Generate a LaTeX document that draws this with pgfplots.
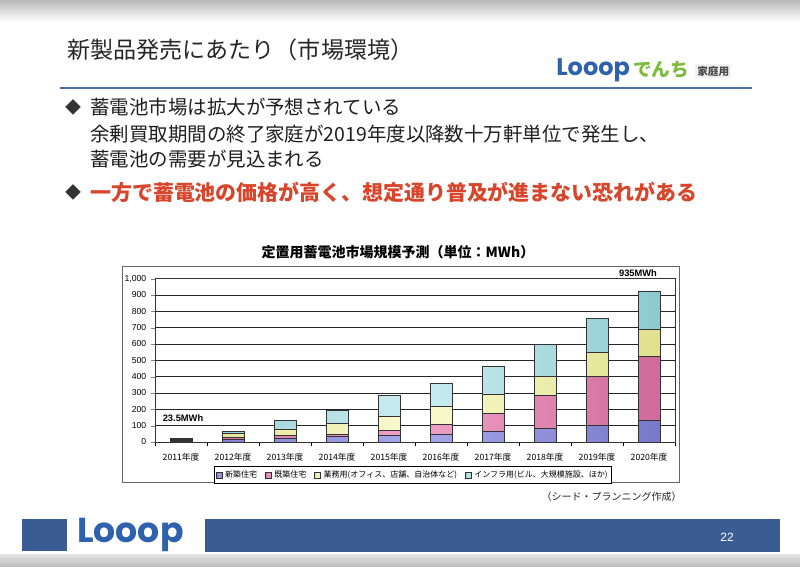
\documentclass[border=0pt]{standalone}
\usepackage{pgfplots}
\usepackage{pgfplotstable}
\pgfplotsset{compat=1.18}
\usepackage{fontspec}
\setmainfont{Noto Sans CJK JP}
\newfontfamily\lib{Liberation Sans}
\newfontfamily\pop{Poppins}
\definecolor{rulec}{HTML}{4A6EA8}
\definecolor{footc}{HTML}{3A5B94}
\definecolor{logob}{HTML}{2F62AE}
\definecolor{logog}{HTML}{7DBA3C}
\definecolor{redt}{HTML}{D8452A}
\definecolor{newE}{HTML}{7878CC}\definecolor{newM}{HTML}{A8A8EC}
\definecolor{exE}{HTML}{D06A9A}\definecolor{exM}{HTML}{F0A2C8}
\definecolor{comE}{HTML}{E0E08C}\definecolor{comM}{HTML}{FAFAD0}
\definecolor{infE}{HTML}{8CCAD0}\definecolor{infM}{HTML}{CCEEF0}
\pgfplotstableread{
x new ex com inf
0 5 3 8 7.5
1 16 14 20 17
2 22 16 42 52
3 35 12 68 80
4 40 30 85 132
5 48 62 107 143
6 63 114 113 170
7 85 198 120 195
8 100 300 147 208
9 130 396 164 235
}\data
\begin{document}
\begin{tikzpicture}[x=0.75pt,y=-0.75pt]
\fill[white] (0,0) rectangle (800,567);
\useasboundingbox (0,0) rectangle (800,567);
% scan edges
\shade[top color=gray!55, bottom color=white] (0,0) rectangle (800,22);
\shade[top color=gray!20, bottom color=gray!55] (0,554) rectangle (800,567);
% header
\node[anchor=west, inner sep=0, text=black!85, font=\fontsize{17.3}{20}\selectfont] at (67,50) {新製品発売にあたり（市場環境）};
\node[anchor=west, inner sep=0, text=logob, font=\pop\bfseries\fontsize{18}{20}\selectfont] at (556,70) {Looop};
\node[anchor=west, inner sep=0, text=logog, font=\bfseries\fontsize{14}{16}\selectfont] at (633,70) {でんち};
\node[anchor=west, inner sep=1.5pt, fill=gray!12, text=black!70, font=\bfseries\fontsize{8}{9}\selectfont] at (695,71) {家庭用};
\draw[rulec, line width=1.5pt] (60,88) -- (752,88);
% bullets
\node[inner sep=0, text=black!80, font=\fontsize{12}{14}\selectfont] at (73,107) {◆};
\node[anchor=west, inner sep=0, text=black!88, font=\fontsize{14.6}{16}\selectfont] at (90,107) {蓄電池市場は拡大が予想されている};
\node[anchor=west, inner sep=0, text=black!88, font=\fontsize{14.6}{16}\selectfont] at (90,134) {余剰買取期間の終了家庭が2019年度以降数十万軒単位で発生し、};
\node[anchor=west, inner sep=0, text=black!88, font=\fontsize{14.6}{16}\selectfont] at (90,159) {蓄電池の需要が見込まれる};
\node[inner sep=0, text=black!80, font=\fontsize{12}{14}\selectfont] at (73,192) {◆};
\node[anchor=west, inner sep=0, text=redt, font=\bfseries\fontsize{15.7}{17}\selectfont] at (90,192) {一方で蓄電池の価格が高く、想定通り普及が進まない恐れがある};
% chart title and frame
\node[inner sep=0, font=\bfseries\fontsize{10.5}{12}\selectfont] at (398,252) {定置用蓄電池市場規模予測（単位：MWh）};
\draw[black!60, line width=0.7pt] (122,266) rectangle (679,482);
\begin{axis}[
  at={(116.25pt,-331.5pt)}, anchor=south west,
  width=390pt, height=122.5pt, scale only axis,
  xmin=-0.5, xmax=9.5, ymin=0, ymax=1000,
  enlarge x limits=false, enlarge y limits=false,
  ybar stacked, bar width=16.5pt,
  xtick={0,...,9},
  xticklabels={2011年度,2012年度,2013年度,2014年度,2015年度,2016年度,2017年度,2018年度,2019年度,2020年度},
  minor xtick={-0.5,0.5,...,9.5},
  major x tick style={draw=none},
  minor x tick style={draw=black},
  minor tick length=3pt, major tick length=3pt,
  tick align=outside, tick pos=left,
  ytick={0,100,...,1000},
  ymajorgrids, grid style={black!85, line width=0.7pt},
  axis line style={black!80, line width=0.7pt},
  y tick label style={font=\lib\fontsize{6.5}{7}\selectfont, /pgf/number format/assume math mode=true, /pgf/number format/1000 sep={,}},
  x tick label style={font=\fontsize{6.5}{7}\selectfont, yshift=-2pt},
  legend style={at={(0.496,-0.202)}, anchor=center, draw=black, fill=white,
    font=\fontsize{6}{7}\selectfont, inner sep=1pt, legend columns=4,
    /tikz/every even column/.append style={column sep=4pt}},
  legend image code/.code={\draw[#1, draw=black!80] (0pt,-2.2pt) rectangle (4.4pt,2.2pt);},
  every axis plot/.append style={draw=black!80, line width=0.6pt},
]
\addplot[left color=newE, right color=newE, middle color=newM] table[x=x,y=new]{\data};
\addplot[left color=exE, right color=exE, middle color=exM] table[x=x,y=ex]{\data};
\addplot[left color=comE, right color=comE, middle color=comM] table[x=x,y=com]{\data};
\addplot[left color=infE, right color=infE, middle color=infM] table[x=x,y=inf]{\data};
\legend{新築住宅,既築住宅,業務用(オフィス、店舗、自治体など),インフラ用(ビル、大規模施設、ほか)}
\end{axis}
\node[inner sep=0, font=\lib\bfseries\fontsize{7}{8}\selectfont] at (183,418) {23.5MWh};
\node[inner sep=0, font=\lib\bfseries\fontsize{7}{8}\selectfont] at (638,273) {935MWh};
\node[anchor=east, inner sep=0, text=black!85, font=\fontsize{7.5}{8}\selectfont] at (682,497) {（シード・プランニング作成）};
% footer
\fill[footc] (22,519) rectangle (67,551);
\fill[footc] (205,519) rectangle (780,552);
\node[anchor=west, inner sep=0, text=logob, font=\pop\bfseries\fontsize{26}{30}\selectfont] at (77,535) {Looop};
\node[inner sep=0, text=white, font=\lib\fontsize{9}{10}\selectfont] at (727,537) {22};
\end{tikzpicture}
\end{document}
